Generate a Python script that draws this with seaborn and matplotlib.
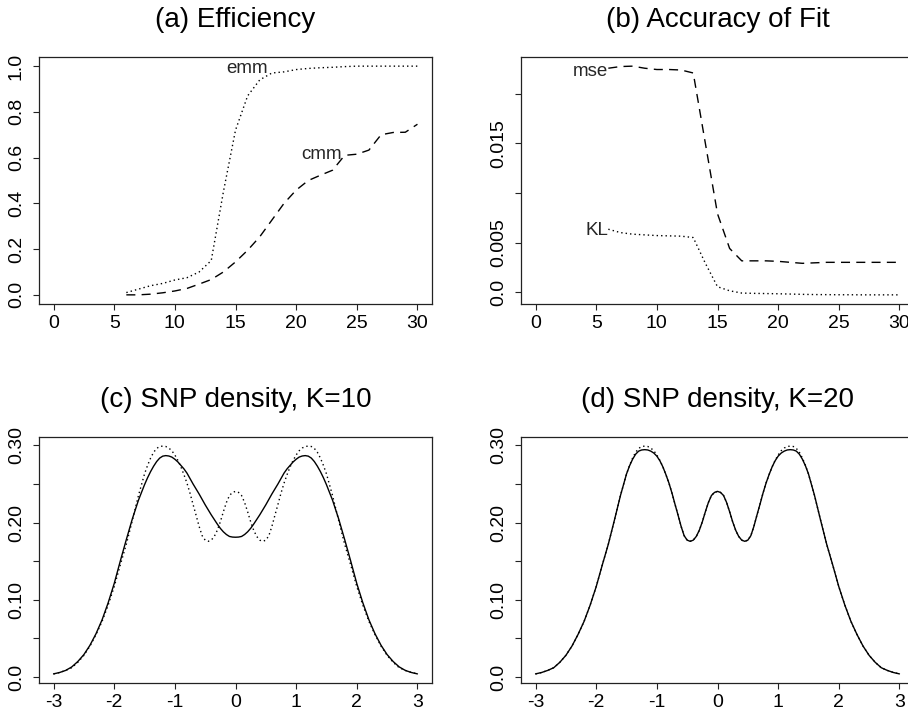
import matplotlib
matplotlib.use("Agg")
import matplotlib.pyplot as plt
import seaborn as sns

# ---------------- data ----------------
k_values = [6, 7, 8, 9, 10, 11, 12, 13, 14, 15, 16, 17, 18, 19, 20,
            21, 22, 23, 24, 25, 26, 27, 28, 29, 30]
emm = [0.01, 0.025, 0.04, 0.05, 0.065, 0.075, 0.10, 0.15, 0.45, 0.72,
       0.87, 0.94, 0.97, 0.975, 0.985, 0.99, 0.993, 0.995, 0.998, 1.0,
       1.0, 1.0, 1.0, 1.0, 1.0]
cmm = [0.0, 0.0, 0.003, 0.009, 0.017, 0.028, 0.047, 0.067, 0.10, 0.144,
       0.195, 0.254, 0.327, 0.40, 0.458, 0.50, 0.523, 0.545, 0.61, 0.615,
       0.633, 0.70, 0.71, 0.711, 0.746]
mse = [0.02258, 0.02275, 0.02279, 0.02258, 0.02245, 0.02245, 0.0224, 0.0221,
       0.0150, 0.0079, 0.0044, 0.00315, 0.00315, 0.00315, 0.0031, 0.0030,
       0.0029, 0.00295, 0.0030, 0.0030, 0.0030, 0.0030, 0.0030, 0.0030, 0.0030]
kl = [0.00634, 0.0060, 0.00584, 0.00577, 0.0057, 0.00567, 0.00564, 0.0055,
      0.0029, 0.00054, 0.00013, -0.0001, -0.00013, -0.00015, -0.00017,
      -0.0002, -0.00023, -0.00025, -0.00026, -0.00027, -0.00027, -0.00028,
      -0.00028, -0.00028, -0.00028]

z_grid = [-3.0, -2.9, -2.8, -2.7, -2.6, -2.5, -2.4, -2.3, -2.2, -2.1,
          -2.0, -1.9, -1.8, -1.7, -1.6,
          -1.5, -1.45, -1.4, -1.35, -1.3, -1.25, -1.2, -1.15, -1.1, -1.05,
          -1.0, -0.95, -0.9, -0.85, -0.8, -0.75, -0.7, -0.65, -0.6, -0.55,
          -0.5, -0.45, -0.4, -0.35, -0.3, -0.25, -0.2, -0.15, -0.1, -0.05,
          0.0,
          0.05, 0.1, 0.15, 0.2, 0.25, 0.3, 0.35, 0.4, 0.45, 0.5,
          0.55, 0.6, 0.65, 0.7, 0.75, 0.8, 0.85, 0.9, 0.95, 1.0,
          1.05, 1.1, 1.15, 1.2, 1.25, 1.3, 1.35, 1.4, 1.45, 1.5,
          1.6, 1.7, 1.8, 1.9, 2.0, 2.1, 2.2, 2.3, 2.4, 2.5,
          2.6, 2.7, 2.8, 2.9, 3.0]
true_density = [0.004, 0.0058, 0.0085, 0.012, 0.019, 0.028, 0.040, 0.055, 0.072, 0.093,
                0.117, 0.145, 0.172, 0.203, 0.235,
                0.2630, 0.2740, 0.2835, 0.2910, 0.2960, 0.2985, 0.2990, 0.2985, 0.2965, 0.2930,
                0.2875, 0.2805, 0.2720, 0.2620, 0.2510, 0.2380, 0.2235, 0.2095, 0.1950, 0.1830,
                0.1772, 0.1757, 0.1772, 0.1820, 0.1900, 0.2010, 0.2140, 0.2260, 0.2350, 0.2390,
                0.2404,
                0.2390, 0.2350, 0.2260, 0.2140, 0.2010, 0.1900, 0.1820, 0.1772, 0.1757, 0.1772,
                0.1830, 0.1950, 0.2095, 0.2235, 0.2380, 0.2510, 0.2620, 0.2720, 0.2805, 0.2875,
                0.2930, 0.2965, 0.2985, 0.2990, 0.2985, 0.2960, 0.2910, 0.2835, 0.2740, 0.2630,
                0.235, 0.203, 0.172, 0.145, 0.117, 0.093, 0.072, 0.055, 0.040, 0.028,
                0.019, 0.012, 0.0085, 0.0058, 0.004]
snp_k10 = [0.004, 0.0058, 0.0085, 0.013, 0.020, 0.029, 0.041, 0.056, 0.074, 0.096,
           0.121, 0.150, 0.178, 0.205, 0.229,
           0.2490, 0.2580, 0.2660, 0.2730, 0.2790, 0.2835, 0.2860, 0.2867, 0.2862, 0.2848,
           0.2820, 0.2785, 0.2740, 0.2695, 0.2640, 0.2570, 0.2500, 0.2435, 0.2370, 0.2300,
           0.2230, 0.2165, 0.2100, 0.2040, 0.1980, 0.1925, 0.1880, 0.1845, 0.1820, 0.1812,
           0.1810,
           0.1812, 0.1820, 0.1845, 0.1880, 0.1925, 0.1980, 0.2040, 0.2100, 0.2165, 0.2230,
           0.2300, 0.2370, 0.2435, 0.2500, 0.2570, 0.2640, 0.2695, 0.2740, 0.2785, 0.2820,
           0.2848, 0.2862, 0.2867, 0.2860, 0.2835, 0.2790, 0.2730, 0.2660, 0.2580, 0.2490,
           0.229, 0.205, 0.178, 0.150, 0.121, 0.096, 0.074, 0.056, 0.041, 0.029,
           0.020, 0.013, 0.0085, 0.0058, 0.004]
snp_k20 = [0.004, 0.0058, 0.0085, 0.012, 0.019, 0.028, 0.040, 0.055, 0.072, 0.093,
           0.117, 0.145, 0.172, 0.203, 0.235,
           0.2630, 0.2735, 0.2820, 0.2885, 0.2925, 0.2940, 0.2944, 0.2940, 0.2925, 0.2900,
           0.2860, 0.2800, 0.2720, 0.2620, 0.2510, 0.2380, 0.2235, 0.2095, 0.1950, 0.1830,
           0.1772, 0.1757, 0.1772, 0.1820, 0.1900, 0.2010, 0.2140, 0.2260, 0.2350, 0.2390,
           0.2404,
           0.2390, 0.2350, 0.2260, 0.2140, 0.2010, 0.1900, 0.1820, 0.1772, 0.1757, 0.1772,
           0.1830, 0.1950, 0.2095, 0.2235, 0.2380, 0.2510, 0.2620, 0.2720, 0.2800, 0.2860,
           0.2900, 0.2925, 0.2940, 0.2944, 0.2940, 0.2925, 0.2885, 0.2820, 0.2735, 0.2630,
           0.235, 0.203, 0.172, 0.145, 0.117, 0.093, 0.072, 0.055, 0.040, 0.028,
           0.019, 0.012, 0.0085, 0.0058, 0.004]

titles = ["(a) Efficiency", "(b) Accuracy of Fit",
          "(c) SNP density, K=10", "(d) SNP density, K=20"]
k_ticks = [0, 5, 10, 15, 20, 25, 30]
k_ticklabels = ["0", "5", "10", "15", "20", "25", "30"]
z_ticks = [-3, -2, -1, 0, 1, 2, 3]
z_ticklabels = ["-3", "-2", "-1", "0", "1", "2", "3"]
eff_ticks = [0.0, 0.2, 0.4, 0.6, 0.8, 1.0]
eff_ticklabels = ["0.0", "0.2", "0.4", "0.6", "0.8", "1.0"]
fit_ticks = [0.0, 0.005, 0.010, 0.015, 0.020]
fit_ticklabels = ["0.0", "0.005", "", "0.015", ""]
dens_ticks = [0.0, 0.05, 0.10, 0.15, 0.20, 0.25, 0.30]
dens_ticklabels = ["0.0", "", "0.10", "", "0.20", "", "0.30"]

# ---------------- style ----------------
sns.set_theme(style="ticks")
plt.rcParams["font.family"] = ["Liberation Sans", "DejaVu Sans"]
plt.rcParams["axes.unicode_minus"] = False

DOT = (0, (1.0, 2.2))
DASH = (0, (6.5, 4.5))
LW = 1.0

W, H = 908, 719
fig = plt.figure(figsize=(W / 100, H / 100), dpi=100)
fig.patch.set_facecolor("white")


def make_axes(x0, y0, x1, y1):
    return fig.add_axes([x0 / W, 1 - y1 / H, (x1 - x0) / W, (y1 - y0) / H])


axA = make_axes(39, 57, 432, 304)
axB = make_axes(521, 57, 914, 304)
axC = make_axes(39, 437, 432, 683)
axD = make_axes(521, 437, 914, 683)


def r_range(lo, hi):
    pad = 0.04 * (hi - lo)
    return lo - pad, hi + pad


def style(ax, title, xt, xtl, yt, ytl, xlim, ylim):
    ax.set_facecolor("white")
    ax.set_xlim(*r_range(*xlim))
    ax.set_ylim(*r_range(*ylim))
    ax.set_xticks(xt)
    ax.set_xticklabels(xtl)
    ax.set_yticks(yt)
    ax.set_yticklabels(ytl)
    ax.set_xlabel("")
    ax.set_ylabel("")
    for sp in ax.spines.values():
        sp.set_visible(True)
        sp.set_color("#222222")
        sp.set_linewidth(0.9)
    ax.tick_params(axis="both", direction="out", length=4.3, width=0.8,
                   color="#222222", labelsize=14, labelcolor="black")
    ax.tick_params(axis="x", pad=3.6)
    ax.tick_params(axis="y", pad=5.8)
    for lab in ax.get_yticklabels():
        lab.set_rotation(90)
        lab.set_va("center")
        lab.set_ha("right")
    ax.set_title(title, fontsize=20, pad=21.6, color="black")
    ax.grid(False)


# (a) Efficiency
sns.lineplot(x=k_values, y=emm, ax=axA, color="black", lw=LW, linestyle=DOT,
             estimator=None, sort=False)
sns.lineplot(x=k_values, y=cmm, ax=axA, color="black", lw=LW, linestyle=DASH,
             estimator=None, sort=False)
axA.text(17.65, 0.968, "emm", ha="right", va="baseline", fontsize=13.5)
axA.text(23.8, 0.593, "cmm", ha="right", va="baseline", fontsize=13.5)
style(axA, titles[0], k_ticks, k_ticklabels, eff_ticks, eff_ticklabels,
      (0, 30), (0, 1))

# (b) Accuracy of fit
sns.lineplot(x=k_values, y=mse, ax=axB, color="black", lw=LW, linestyle=DASH,
             estimator=None, sort=False)
sns.lineplot(x=k_values, y=kl, ax=axB, color="black", lw=LW, linestyle=DOT,
             estimator=None, sort=False)
axB.text(6.0, 0.02183, "mse", ha="right", va="baseline", fontsize=13.5)
axB.text(6.0, 0.0058, "KL", ha="right", va="baseline", fontsize=13.5)
style(axB, titles[1], k_ticks, k_ticklabels, fit_ticks, fit_ticklabels,
      (0, 30), (min(kl), max(mse)))

# (c) SNP density K=10
sns.lineplot(x=z_grid, y=true_density, ax=axC, color="black", lw=LW, linestyle=DOT,
             estimator=None, sort=False)
sns.lineplot(x=z_grid, y=snp_k10, ax=axC, color="black", lw=LW,
             estimator=None, sort=False)
style(axC, titles[2], z_ticks, z_ticklabels, dens_ticks, dens_ticklabels,
      (-3, 3), (min(true_density), max(true_density)))

# (d) SNP density K=20
sns.lineplot(x=z_grid, y=true_density, ax=axD, color="black", lw=LW, linestyle=DOT,
             estimator=None, sort=False)
sns.lineplot(x=z_grid, y=snp_k20, ax=axD, color="black", lw=LW,
             estimator=None, sort=False)
style(axD, titles[3], z_ticks, z_ticklabels, dens_ticks, dens_ticklabels,
      (-3, 3), (min(true_density), max(true_density)))

fig.savefig("out.png", dpi=100, facecolor="white")
